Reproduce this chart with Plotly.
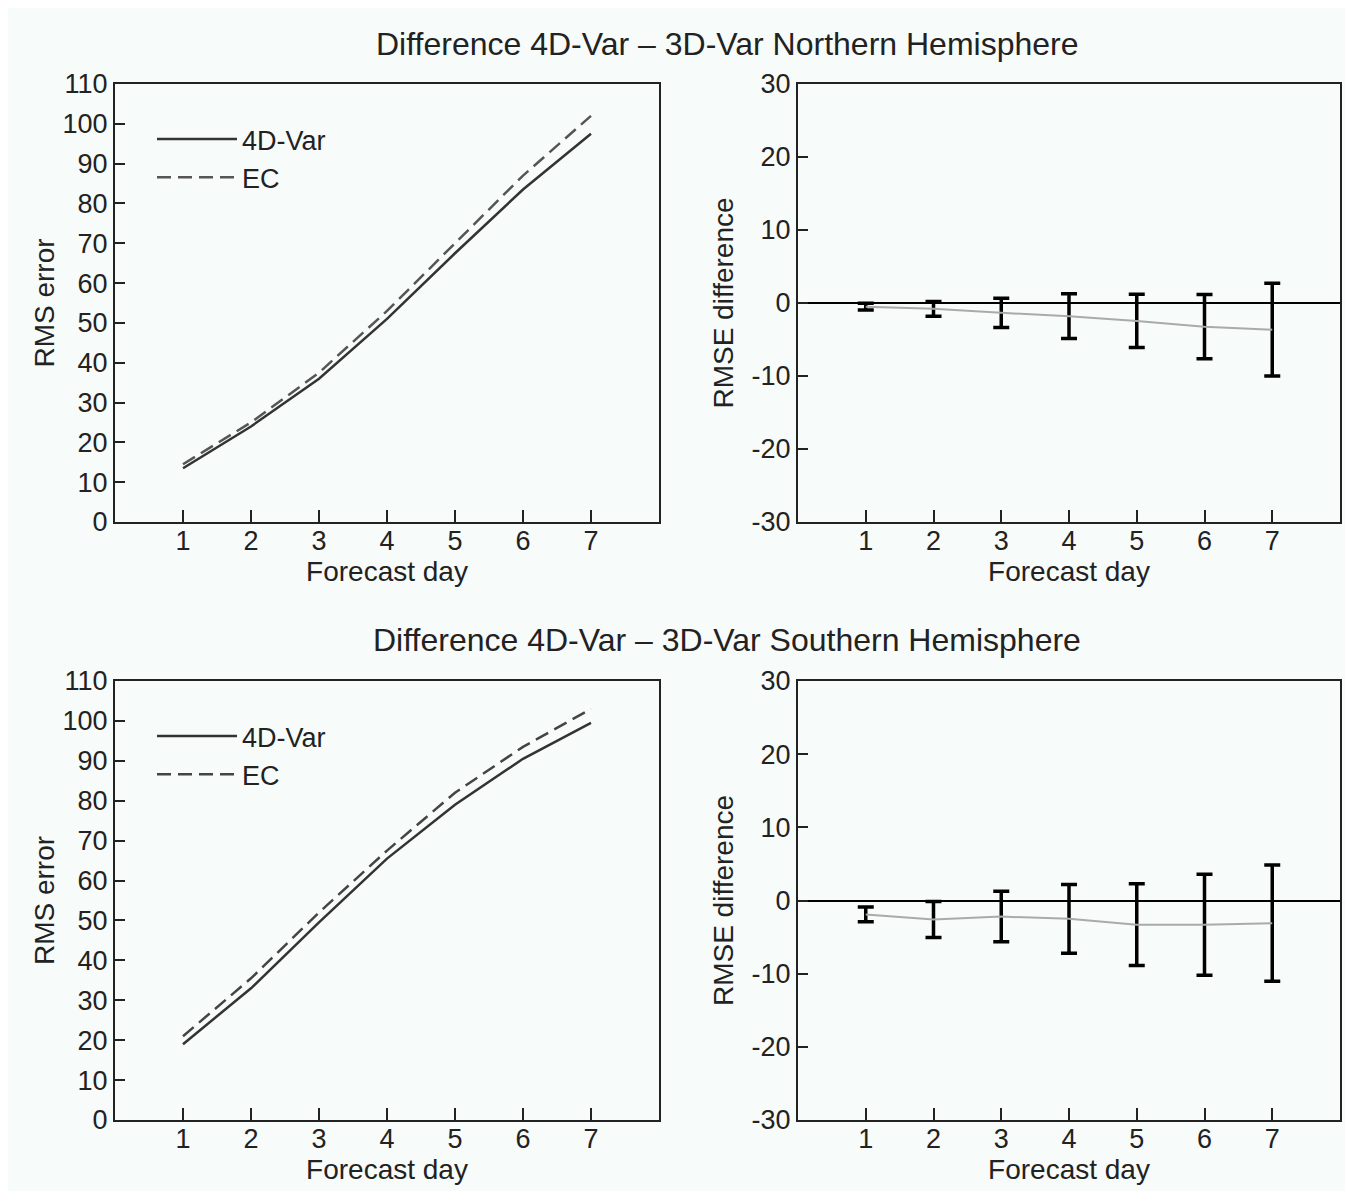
import plotly.graph_objects as go

days = [1, 2, 3, 4, 5, 6, 7]

nh_4dvar = [13.5, 24, 36, 51, 67.5, 83.5, 97.5]
nh_ec = [14.5, 25, 37.5, 53, 70, 87, 102]
sh_4dvar = [19, 33, 49.5, 65.5, 79, 90.5, 99.5]
sh_ec = [21, 35.5, 52, 67.5, 82, 93.5, 103]

nh_diff = [-0.5, -0.8, -1.35, -1.8, -2.45, -3.25, -3.65]
nh_err = [0.45, 1.0, 2.0, 3.05, 3.65, 4.4, 6.35]
sh_diff = [-1.9, -2.6, -2.2, -2.5, -3.3, -3.3, -3.1]
sh_err = [1.0, 2.45, 3.45, 4.7, 5.6, 6.9, 7.95]

rms_ticks = list(range(0, 111, 10))
diff_ticks = [-30, -20, -10, 0, 10, 20, 30]
diff_ticklabels = ["-30", "-20", "-10", "0", "10", "20", "30"]

titles = ["Difference 4D-Var \u2013 3D-Var Northern Hemisphere",
          "Difference 4D-Var \u2013 3D-Var Southern Hemisphere"]

FONT = "Liberation Sans, Arial, sans-serif"
BG = "#f7fbf9"
AX = "#222222"
W, H = 1353, 1191
OFF = 8  # page body margin


def px(x):
    return (x - OFF) / W


def py(y):
    return 1 - (y - OFF) / H


fig = go.Figure()

fig.add_trace(go.Scatter(x=days, y=nh_4dvar, mode="lines", name="4D-Var",
                         line=dict(color="#333333", width=2.5), xaxis="x", yaxis="y", legend="legend"))
fig.add_trace(go.Scatter(x=days, y=nh_ec, mode="lines", name="EC",
                         line=dict(color="#555555", width=2.5, dash="14px,7px"), xaxis="x", yaxis="y", legend="legend"))
fig.add_trace(go.Scatter(x=days, y=sh_4dvar, mode="lines", name="4D-Var",
                         line=dict(color="#333333", width=2.5), xaxis="x3", yaxis="y3", legend="legend2"))
fig.add_trace(go.Scatter(x=days, y=sh_ec, mode="lines", name="EC",
                         line=dict(color="#444444", width=2.5, dash="14px,7px"), xaxis="x3", yaxis="y3", legend="legend2"))

for xa, ya, yv, ev in [("x2", "y2", nh_diff, nh_err), ("x4", "y4", sh_diff, sh_err)]:
    fig.add_trace(go.Scatter(x=days, y=yv, mode="lines", showlegend=False,
                             line=dict(color="#aaaaaa", width=2),
                             error_y=dict(type="data", array=ev, visible=True,
                                          color="#000000", thickness=3.5, width=8),
                             xaxis=xa, yaxis=ya))

xd_left = [px(115), px(659)]
xd_right = [px(798), px(1340)]
yd_top = [py(522), py(84)]
yd_bot = [py(1120), py(681)]

TICKF = dict(family=FONT, size=27, color=AX)
TITF = dict(family=FONT, size=28, color=AX)

common = dict(showline=True, linecolor=AX, linewidth=2, mirror=True,
              ticks="inside", ticklen=12, tickwidth=2, tickcolor=AX,
              showgrid=False, zeroline=False, automargin=False,
              tickfont=TICKF)


def xax(domain, anchor):
    return dict(common, domain=domain, anchor=anchor, range=[0, 8],
                tickvals=days, ticktext=[str(d) for d in days],
                ticklabelstandoff=-6,
                title=dict(text="Forecast day", font=TITF, standoff=0))


def yax_left(domain, anchor):
    return dict(common, domain=domain, anchor=anchor, range=[0, 110],
                tickvals=rms_ticks, ticklen=10,
                title=dict(text="RMS error", font=TITF, standoff=0))


def yax_right(domain, anchor):
    d = dict(common, domain=domain, anchor=anchor, range=[-30, 30],
             tickvals=diff_ticks, ticktext=diff_ticklabels, ticklen=10,
             title=dict(text="RMSE difference", font=TITF, standoff=10))
    d["zeroline"] = True
    d["zerolinecolor"] = "#000000"
    d["zerolinewidth"] = 2
    return d


legend_common = dict(bgcolor="rgba(0,0,0,0)", borderwidth=0,
                     font=dict(family=FONT, size=27, color=AX),
                     xanchor="left", yanchor="top", tracegroupgap=0, itemwidth=80)

fig.update_layout(
    width=W, height=H,
    margin=dict(l=0, r=0, t=0, b=0, autoexpand=False),
    paper_bgcolor=BG, plot_bgcolor=BG,
    xaxis=xax(xd_left, "y"), yaxis=yax_left(yd_top, "x"),
    xaxis2=xax(xd_right, "y2"), yaxis2=yax_right(yd_top, "x2"),
    xaxis3=xax(xd_left, "y3"), yaxis3=yax_left(yd_bot, "x3"),
    xaxis4=xax(xd_right, "y4"), yaxis4=yax_right(yd_bot, "x4"),
    legend=dict(legend_common, x=px(152), y=py(115)),
    legend2=dict(legend_common, x=px(152), y=py(712)),
    annotations=[
        dict(text=titles[0], x=px(727), y=py(44), xref="paper", yref="paper",
             showarrow=False, font=dict(family=FONT, size=32, color=AX), xanchor="center", yanchor="middle"),
        dict(text=titles[1], x=px(727), y=py(640), xref="paper", yref="paper",
             showarrow=False, font=dict(family=FONT, size=32, color=AX), xanchor="center", yanchor="middle"),
    ],
)

fig.write_html("out.html")
